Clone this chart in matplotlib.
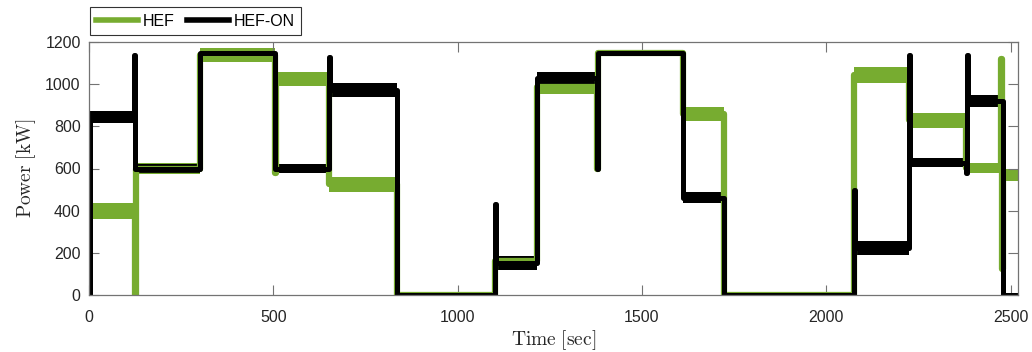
import numpy as np
import matplotlib
matplotlib.use("Agg")
import matplotlib.pyplot as plt

plt.rcParams['font.family'] = ['Liberation Sans', 'DejaVu Sans']
plt.rcParams['mathtext.fontset'] = 'cm'

# step series: value holds from time[i] until time[i+1]
# spread = half height of the noisy band around each level
hef_time = [0, 1, 124, 127, 300, 505, 508, 650, 835, 1100, 1215, 1379, 1381,
            1612, 1723, 2074, 2224, 2380, 2475, 2477, 2480, 2520]
hef_power = [0, 400, 0, 600, 1140, 580, 1025, 525, 0, 160, 985, 600, 1150,
             858, 0, 1044, 828, 602, 1120, 125, 570, 570]
hef_spread = [0, 38, 0, 25, 33, 0, 35, 35, 0, 25, 32, 0, 0,
              35, 0, 38, 35, 24, 0, 0, 28, 28]

hefon_time = [0, 4, 122, 125, 300, 505, 650, 653, 835, 1100, 1103, 1215, 1379,
              1381, 1612, 1722, 2074, 2077, 2224, 2227, 2380, 2382, 2385, 2478, 2520]
hefon_power = [0, 845, 1140, 600, 1150, 600, 1130, 972, 0, 430, 152, 1028, 600,
               1150, 462, 0, 500, 225, 1140, 628, 580, 1140, 920, 0, 0]
hefon_spread = [0, 30, 0, 22, 0, 22, 0, 33, 0, 0, 33, 30, 0,
                0, 26, 0, 0, 33, 0, 22, 0, 0, 30, 0, 0]

green = '#77AC30'

fig = plt.figure(figsize=(10.32, 3.52), dpi=100)
ax = fig.add_axes([89 / 1032, 1 - 295 / 352, 929 / 1032, 253 / 352])

for t, p, s, c, lw, lab in [(hef_time, hef_power, hef_spread, green, 4.5, 'HEF'),
                            (hefon_time, hefon_power, hefon_spread, 'black', 3.6, 'HEF-ON')]:
    t = np.array(t)
    p = np.array(p, dtype=float)
    s = np.array(s, dtype=float)
    ax.fill_between(t, p - s, p + s, step='post', color=c, lw=0)
    ax.step(t, p, where='post', color=c, lw=lw, label=lab)

ax.set_xlim(0, 2520)
ax.set_ylim(0, 1200)
ax.set_xticks(range(0, 2501, 500))
ax.set_yticks(range(0, 1201, 200))
ax.tick_params(direction='in', length=7, width=0.8, top=True, right=True,
               labelsize=11.5, colors='0.45', labelcolor='#262626')
ax.tick_params(axis='x', pad=11)
ax.tick_params(axis='y', pad=6)
for sp in ax.spines.values():
    sp.set_color('0.45')
    sp.set_linewidth(0.9)

ax.set_xlabel(r'$\mathrm{Time\ [sec]}$', fontsize=14, color='#262626', labelpad=2)
ax.set_ylabel(r'$\mathrm{Power\ [kW]}$', fontsize=14, color='#262626', labelpad=5)

leg = ax.legend(loc='lower left', bbox_to_anchor=(0.001, 1.028), borderaxespad=0,
                ncol=2, fontsize=11.5, frameon=True, fancybox=False,
                edgecolor='black', handlelength=2.6, columnspacing=0.8,
                handletextpad=0.3, borderpad=0.4)
leg.get_frame().set_linewidth(0.8)
for h in leg.get_lines():
    h.set_linewidth(4)

fig.savefig('out.png', dpi=100)
